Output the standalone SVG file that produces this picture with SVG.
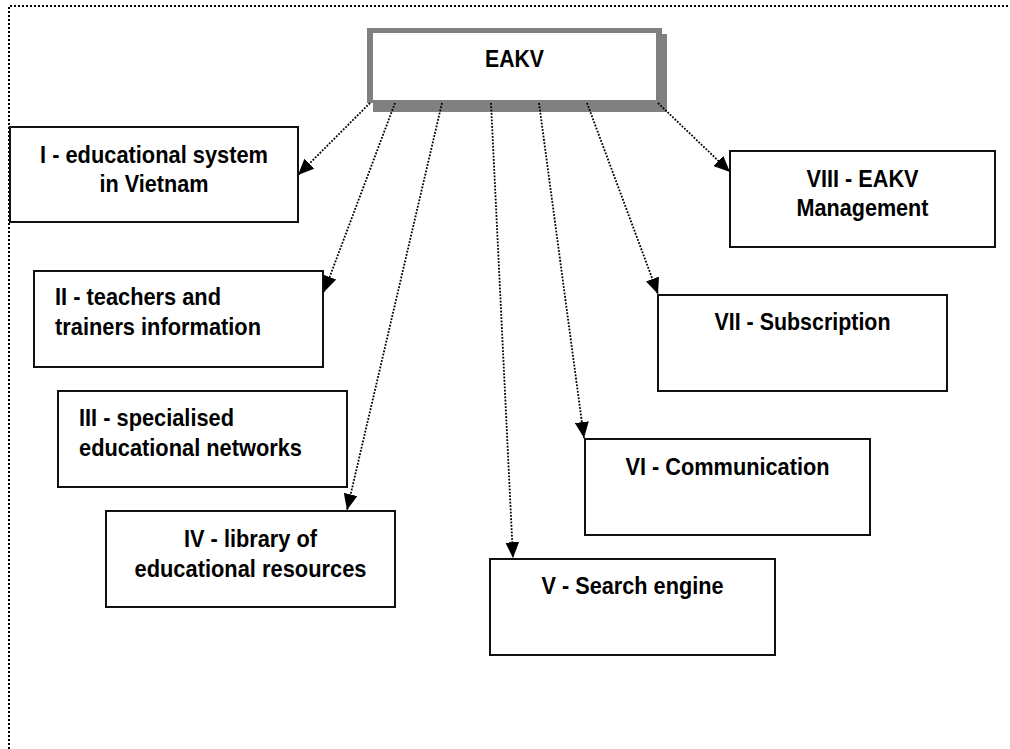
<svg xmlns="http://www.w3.org/2000/svg" width="1010" height="749" viewBox="0 0 1010 749">
<style>
.bg{fill:#fff}
.frame{fill:none;stroke:#000;stroke-width:2;stroke-dasharray:2 2}
.box{fill:#fff;stroke:#111;stroke-width:2}
.lbl{font-family:"Liberation Sans",Arial,sans-serif;font-weight:bold;font-size:24px;fill:#000}
.mid{text-anchor:middle}
.conn{fill:none;stroke:#000;stroke-width:1.8;stroke-dasharray:1.8 1.5}
</style>
<defs>
<marker id="arr" markerUnits="userSpaceOnUse" markerWidth="17" markerHeight="14" refX="16" refY="7" orient="auto">
<path d="M0,0 L16,7 L0,14 z" fill="#000"/>
</marker>
</defs>
<rect class="bg" x="0" y="0" width="1010" height="749"/>
<path class="frame" d="M9,749 V6 H1010"/>

<g id="eakv">
<rect x="373" y="34" width="294" height="78" fill="#808080"/>
<rect x="367" y="28" width="295" height="75" fill="#808080"/>
<rect x="373" y="33" width="283" height="67" fill="#fff"/>
<text class="lbl mid" x="514.5" y="67" textLength="59" lengthAdjust="spacingAndGlyphs">EAKV</text>
</g>

<g id="node1">
<rect class="box" x="10" y="127" width="288" height="95"/>
<text class="lbl mid" x="154" y="163" textLength="228" lengthAdjust="spacingAndGlyphs">I - educational system</text>
<text class="lbl mid" x="154" y="192" textLength="109" lengthAdjust="spacingAndGlyphs">in Vietnam</text>
</g>

<g id="node2">
<rect class="box" x="34" y="271" width="289" height="96"/>
<text class="lbl" x="55" y="305" textLength="166" lengthAdjust="spacingAndGlyphs">II - teachers and</text>
<text class="lbl" x="55" y="335" textLength="206" lengthAdjust="spacingAndGlyphs">trainers information</text>
</g>

<g id="node3">
<rect class="box" x="58" y="391" width="289" height="96"/>
<text class="lbl" x="79" y="426" textLength="155" lengthAdjust="spacingAndGlyphs">III - specialised</text>
<text class="lbl" x="79" y="456" textLength="223" lengthAdjust="spacingAndGlyphs">educational networks</text>
</g>

<g id="node4">
<rect class="box" x="106" y="511" width="289" height="96"/>
<text class="lbl mid" x="250.5" y="547" textLength="133" lengthAdjust="spacingAndGlyphs">IV - library of</text>
<text class="lbl mid" x="250.5" y="577" textLength="232" lengthAdjust="spacingAndGlyphs">educational resources</text>
</g>

<g id="node5">
<rect class="box" x="490" y="559" width="285" height="96"/>
<text class="lbl mid" x="632.5" y="594" textLength="182" lengthAdjust="spacingAndGlyphs">V - Search engine</text>
</g>

<g id="node6">
<rect class="box" x="585" y="439" width="285" height="96"/>
<text class="lbl mid" x="727.5" y="475" textLength="204" lengthAdjust="spacingAndGlyphs">VI - Communication</text>
</g>

<g id="node7">
<rect class="box" x="658" y="295" width="289" height="96"/>
<text class="lbl mid" x="802.5" y="330" textLength="176" lengthAdjust="spacingAndGlyphs">VII - Subscription</text>
</g>

<g id="node8">
<rect class="box" x="730" y="151" width="265" height="96"/>
<text class="lbl mid" x="862.5" y="187" textLength="112" lengthAdjust="spacingAndGlyphs">VIII - EAKV</text>
<text class="lbl mid" x="862.5" y="216" textLength="132" lengthAdjust="spacingAndGlyphs">Management</text>
</g>

<g id="connectors">
<line class="conn" x1="370" y1="103" x2="298" y2="175" marker-end="url(#arr)"/>
<line class="conn" x1="395" y1="103" x2="324" y2="292" marker-end="url(#arr)"/>
<line class="conn" x1="442" y1="103" x2="347" y2="510" marker-end="url(#arr)"/>
<line class="conn" x1="491" y1="103" x2="513" y2="558" marker-end="url(#arr)"/>
<line class="conn" x1="539" y1="103" x2="584" y2="438" marker-end="url(#arr)"/>
<line class="conn" x1="587" y1="103" x2="658" y2="294" marker-end="url(#arr)"/>
<line class="conn" x1="658" y1="103" x2="730" y2="172" marker-end="url(#arr)"/>
</g>
</svg>
